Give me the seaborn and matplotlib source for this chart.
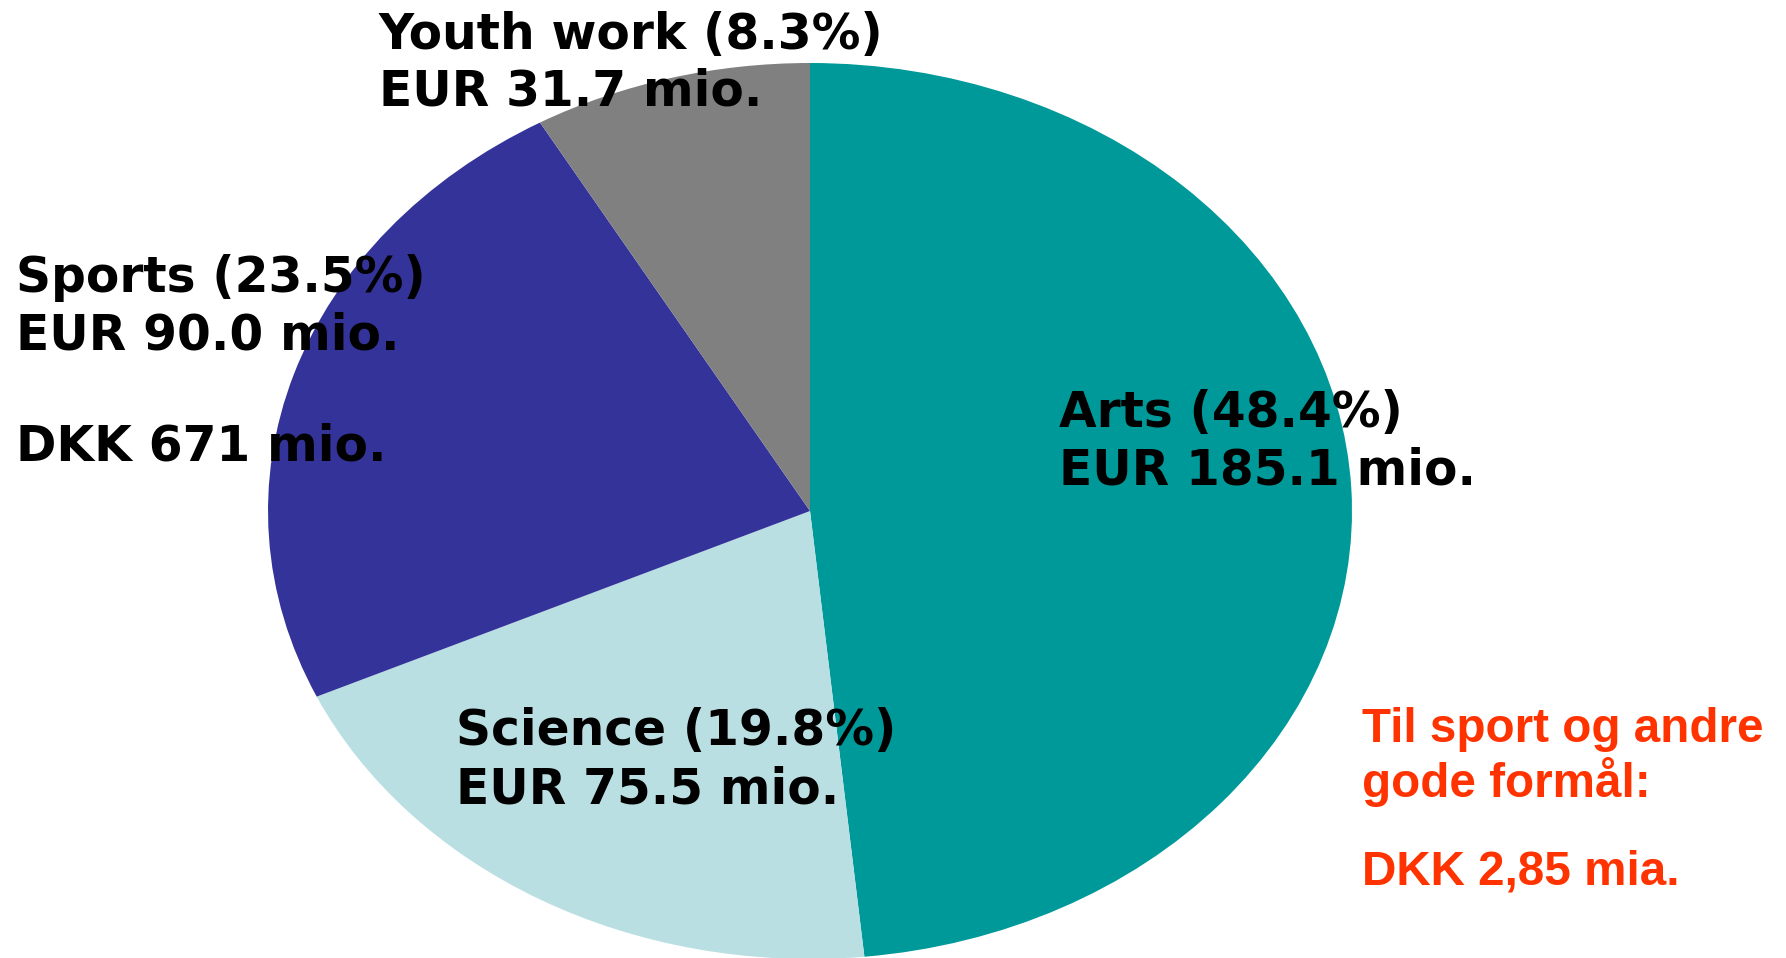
import matplotlib
matplotlib.use("Agg")
import matplotlib.pyplot as plt
import seaborn as sns

categories = ["Arts", "Science", "Sports", "Youth work"]
shares = [48.4, 19.8, 23.5, 8.3]
eur_mio = ["185.1", "75.5", "90.0", "31.7"]
colors = ["#009999", "#B9DFE3", "#333399", "#808080"]
extra_sports = "DKK 671 mio."
note_lines = ["Til sport og andre", "gode formål:", "DKK 2,85 mia."]

sns.set_theme(style="white")
plt.rcParams["font.family"] = ["DejaVu Sans"]

W, H = 1786, 958
fig = plt.figure(figsize=(W / 100, H / 100), dpi=100)
fig.patch.set_facecolor("white")

# ellipse: center (810,511), rx 542, ry 448 (pixels)
cx, cy, rx, ry = 810, 511, 542, 448
ax = fig.add_axes([(cx - rx) / W, (H - (cy + ry)) / H, 2 * rx / W, 2 * ry / H])
ax.pie(shares, colors=colors, startangle=90, counterclock=False,
       wedgeprops=dict(linewidth=0))
ax.set_aspect("auto")
ax.set_xlim(-1, 1)
ax.set_ylim(-1, 1)
ax.axis("off")

def px(x, y, s, **kw):
    fig.text(x / W, 1 - y / H, s, va="baseline", ha="left", **kw)

lab = dict(fontsize=35, fontweight="bold", color="black", family="DejaVu Sans")
pos = {
    "Arts": (1059, [427, 485]),
    "Science": (456, [745, 803]),
    "Sports": (16, [292, 349]),
    "Youth work": (379, [49, 106]),
}
for cat, sh, eur in zip(categories, shares, eur_mio):
    x, ys = pos[cat]
    px(x, ys[0], f"{cat} ({sh}%)", **lab)
    px(x, ys[1], f"EUR {eur} mio.", **lab)
px(16, 461, extra_sports, **lab)

red = dict(fontsize=34.3, fontweight="bold", color="#FF3300", family="Liberation Sans")
for s, y in zip(note_lines, [742, 797, 885]):
    px(1362, y, s, **red)

fig.savefig("out.png", dpi=100, facecolor="white")
